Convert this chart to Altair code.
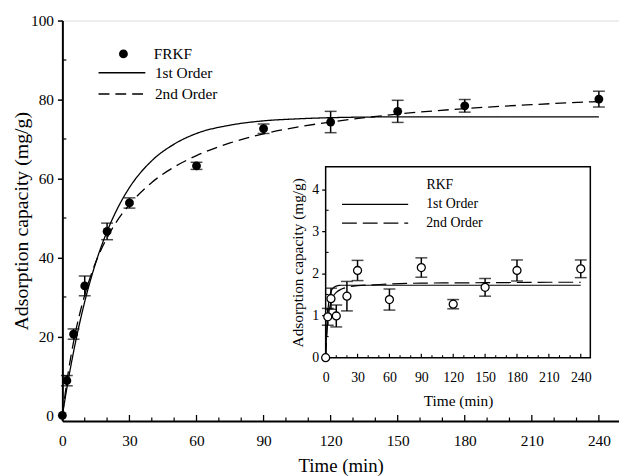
import altair as alt
import pandas as pd

FONT = "Liberation Serif"

# ---------------- data ----------------
t_pts = [0, 2, 5, 10, 20, 30, 60, 90, 120, 150, 180, 240]
q_frkf = [0, 8.8, 20.6, 32.8, 46.6, 53.8, 63.2, 72.6, 74.3, 77.0, 78.4, 80.1]
e_frkf = [0, 1.3, 1.3, 2.5, 2.1, 1.3, 0.9, 1.2, 2.7, 2.8, 1.6, 2.0]

t_fit_main = [0, 2, 5, 10, 15, 20, 25, 30, 40, 50, 60, 75, 90, 105, 120, 150, 180, 210, 240]
fit1_main = [0, 6.9, 16.1, 28.8, 38.8, 46.6, 52.8, 57.7, 64.5, 68.7, 71.4, 73.5, 74.6, 75.1, 75.4, 75.6, 75.6, 75.6, 75.6]
fit2_main = [0, 8.6, 18.6, 30.5, 38.9, 45.0, 49.7, 53.4, 59.0, 62.9, 65.8, 69.0, 71.3, 73.0, 74.3, 76.3, 77.7, 78.7, 79.5]

q_rkf = [0, 0.97, 1.40, 0.99, 1.46, 2.07, 1.38, 2.14, 1.27, 1.67, 2.07, 2.11]
e_rkf = [0, 0.2, 0.25, 0.26, 0.35, 0.24, 0.25, 0.23, 0.11, 0.21, 0.25, 0.21]

t_fit_inset = [0, 1, 2, 3, 4, 5, 7, 10, 15, 20, 30, 45, 60, 90, 120, 150, 180, 210, 240]
fit1_inset = [0, 0.66, 1.08, 1.33, 1.48, 1.57, 1.65, 1.70, 1.72, 1.72, 1.72, 1.72, 1.72, 1.72, 1.72, 1.72, 1.72, 1.72, 1.72]
fit2_inset = [0, 0.50, 0.85, 1.07, 1.22, 1.32, 1.45, 1.55, 1.63, 1.67, 1.71, 1.73, 1.75, 1.77, 1.775, 1.78, 1.785, 1.79, 1.79]

x_major = [0, 30, 60, 90, 120, 150, 180, 210, 240]
x_minor = [10, 20, 40, 50, 70, 80, 100, 110, 130, 140, 160, 170, 190, 200, 220, 230]
y_major_main = [0, 20, 40, 60, 80, 100]
y_minor_main = [10, 30, 50, 70, 90]
y_major_inset = [0, 1, 2, 3, 4]
y_minor_inset = [0.5, 1.5, 2.5, 3.5]

models = ["1st Order", "2nd Order"]

# ---------------- tables ----------------
pts_main = pd.DataFrame({"t": t_pts, "q": q_frkf, "e": e_frkf, "name": "FRKF"})
pts_main["lo"] = pts_main.q - pts_main.e
pts_main["hi"] = pts_main.q + pts_main.e
err_main = pts_main[pts_main.e > 0]

fit_main = pd.concat([
    pd.DataFrame({"t": t_fit_main, "q": fit1_main, "model": models[0]}),
    pd.DataFrame({"t": t_fit_main, "q": fit2_main, "model": models[1]}),
])

pts_in = pd.DataFrame({"t": t_pts, "q": q_rkf, "e": e_rkf, "name": "RKF"})
pts_in["lo"] = pts_in.q - pts_in.e
pts_in["hi"] = pts_in.q + pts_in.e
err_in = pts_in[pts_in.e > 0]

fit_in = pd.concat([
    pd.DataFrame({"t": t_fit_inset, "q": fit1_inset, "model": models[0]}),
    pd.DataFrame({"t": t_fit_inset, "q": fit2_inset, "model": models[1]}),
])

W, H = 563, 405
# inset placement inside the main view (pixels)
IX0, IX1 = 266.3, 534.0
IY0, IY1 = 341.0, 148.0

# ---------------- main panel ----------------
mx_scale = alt.Scale(domain=[0, 249], nice=False, zero=False)
my_scale = alt.Scale(domain=[-1.4, 100], nice=False, zero=False)
mx_axis = alt.Axis(orient="bottom", values=x_major, ticks=False, labelPadding=12.5, labelFlush=False,
                   labelFont=FONT, labelFontSize=15.5, labelColor="black", domainColor="black",
                   domainWidth=2, title="Time (min)", titleFont=FONT, titleFontSize=19,
                   titleFontWeight="normal", titleColor="black", titlePadding=8, grid=False)
my_axis = alt.Axis(orient="left", values=y_major_main, tickSize=5, tickWidth=1.5, tickColor="black",
                   labelPadding=4, labelFont=FONT, labelFontSize=15.5, labelColor="black",
                   domainColor="black", domainWidth=2, title="Adsorption capacity (mg/g)",
                   titleFont=FONT, titleFontSize=20, titleFontWeight="normal", titleColor="black",
                   titlePadding=-1, grid=False)
MX = alt.X("t:Q", scale=mx_scale, axis=mx_axis)
MY = alt.Y("q:Q", scale=my_scale, axis=my_axis)

main_err = alt.Chart(err_main).mark_rule(color="black", strokeWidth=1.5).encode(
    x=MX, y=alt.Y("lo:Q", scale=my_scale, axis=my_axis), y2="hi:Q")
main_cap_lo = alt.Chart(err_main).mark_tick(orient="horizontal", size=12, thickness=1.5, color="black").encode(
    x=MX, y=alt.Y("lo:Q", scale=my_scale, axis=my_axis))
main_cap_hi = alt.Chart(err_main).mark_tick(orient="horizontal", size=12, thickness=1.5, color="black").encode(
    x=MX, y=alt.Y("hi:Q", scale=my_scale, axis=my_axis))
main_lines = alt.Chart(fit_main).mark_line(color="black", strokeWidth=1.3, interpolate="monotone").encode(
    x=MX, y=MY,
    strokeDash=alt.StrokeDash("model:N", scale=alt.Scale(domain=models, range=[[1, 0], [11, 6]]),
                              legend=alt.Legend(title=None, orient="none", legendX=52.5, legendY=45,
                                                padding=0, rowPadding=4.5, symbolType="M-8,0H8",
                                                symbolSize=35, symbolStrokeColor="black",
                                                symbolStrokeWidth=1.4, labelOffset=25.6,
                                                labelFont=FONT, labelFontSize=15.5, labelColor="black")))
main_pts = alt.Chart(pts_main).mark_point(filled=True, color="black", size=80, opacity=1).encode(
    x=MX, y=MY,
    shape=alt.Shape("name:N", scale=alt.Scale(domain=["FRKF"], range=["circle"]),
                    legend=alt.Legend(title=None, orient="none", legendX=54, legendY=26, padding=0,
                                      symbolSize=80, symbolFillColor="black", symbolStrokeColor="black",
                                      labelOffset=23, labelFont=FONT, labelFontSize=15.5,
                                      labelColor="black")))
tick_x_maj = alt.Chart(pd.DataFrame({"t": x_major})).mark_rule(color="black", strokeWidth=1.3).encode(
    x=MX, y=alt.value(H), y2=alt.value(H - 6))
tick_x_min = alt.Chart(pd.DataFrame({"t": x_minor})).mark_rule(color="black", strokeWidth=1.2).encode(
    x=MX, y=alt.value(H), y2=alt.value(H - 3.5))
tick_y_min = alt.Chart(pd.DataFrame({"q": y_minor_main})).mark_rule(color="black", strokeWidth=1.2).encode(
    y=MY, x=alt.value(0), x2=alt.value(4))

main = alt.layer(tick_x_maj, tick_x_min, tick_y_min, main_err, main_cap_lo, main_cap_hi,
                 main_lines, main_pts)

# ---------------- inset panel ----------------
ix_scale = alt.Scale(domain=[0, 249], range=[IX0, IX1], nice=False, zero=False)
iy_scale = alt.Scale(domain=[0, 4.53], range=[IY0, IY1], nice=False, zero=False)
ix_axis = alt.Axis(orient="bottom", offset=-(H - IY0), values=x_major, ticks=False, domain=False,
                   labelPadding=13, labelFlush=False, labelFont=FONT, labelFontSize=14,
                   labelColor="black", title="Time (min)", titleFont=FONT, titleFontSize=15.5,
                   titleFontWeight="normal", titleColor="black", titlePadding=9.5, grid=False)
iy_axis = alt.Axis(orient="left", offset=-IX0, values=y_major_inset, tickSize=4, tickWidth=1.3,
                   tickColor="black", domain=False, labelPadding=3, labelFont=FONT, labelFontSize=14,
                   labelColor="black", title="Adsorption capacity (mg/g)", titleFont=FONT,
                   titleFontSize=15.5, titleFontWeight="normal", titleColor="black", titlePadding=6,
                   grid=False)
IXe = alt.X("t:Q", scale=ix_scale, axis=ix_axis)
IYe = alt.Y("q:Q", scale=iy_scale, axis=iy_axis)

frame = alt.Chart(pd.DataFrame({"t": [0], "t2": [249], "q": [0], "q2": [4.53]})).mark_rect(
    fill="white", stroke="black", strokeWidth=1.5).encode(x=IXe, x2="t2:Q", y=IYe, y2="q2:Q")
in_err = alt.Chart(err_in).mark_rule(color="black", strokeWidth=1.5).encode(
    x=IXe, y=alt.Y("lo:Q", scale=iy_scale, axis=iy_axis), y2="hi:Q")
in_cap_lo = alt.Chart(err_in).mark_tick(orient="horizontal", size=12, thickness=1.5, color="black").encode(
    x=IXe, y=alt.Y("lo:Q", scale=iy_scale, axis=iy_axis))
in_cap_hi = alt.Chart(err_in).mark_tick(orient="horizontal", size=12, thickness=1.5, color="black").encode(
    x=IXe, y=alt.Y("hi:Q", scale=iy_scale, axis=iy_axis))
in_lines = alt.Chart(fit_in).mark_line(color="black", strokeWidth=1.2, interpolate="monotone").encode(
    x=IXe, y=IYe,
    strokeDash=alt.StrokeDash("model:N", scale=alt.Scale(domain=models, range=[[1, 0], [15, 6]]),
                              legend=alt.Legend(title=None, orient="none", legendX=309.3, legendY=179,
                                                padding=0, rowPadding=5, symbolType="M-8,0H8",
                                                symbolSize=70, symbolStrokeColor="black",
                                                symbolStrokeWidth=1.3, labelOffset=44.7,
                                                labelFont=FONT, labelFontSize=14, labelColor="black")))
in_pts = alt.Chart(pts_in).mark_point(filled=False, fill="white", stroke="black", strokeWidth=1.3,
                                      size=65, opacity=1).encode(
    x=IXe, y=IYe,
    shape=alt.Shape("name:N", scale=alt.Scale(domain=["RKF"], range=["circle"]),
                    legend=alt.Legend(title=None, orient="none", legendX=310.6, legendY=159.3, padding=0,
                                      symbolSize=38, symbolFillColor="white", symbolStrokeColor="black",
                                      symbolStrokeWidth=1.2, labelOffset=43.6, labelFont=FONT,
                                      labelFontSize=14, labelColor="black")))
itick_x_maj = alt.Chart(pd.DataFrame({"t": x_major})).mark_rule(color="black", strokeWidth=1.2).encode(
    x=IXe, y=alt.value(IY0), y2=alt.value(IY0 - 4))
itick_x_min = alt.Chart(pd.DataFrame({"t": x_minor})).mark_rule(color="black", strokeWidth=1.1).encode(
    x=IXe, y=alt.value(IY0), y2=alt.value(IY0 - 2.5))
itick_y_min = alt.Chart(pd.DataFrame({"q": y_minor_inset})).mark_rule(color="black", strokeWidth=1.1).encode(
    y=IYe, x=alt.value(IX0), x2=alt.value(IX0 + 3))

inset = alt.layer(frame, itick_x_maj, itick_x_min, itick_y_min, in_err, in_cap_lo, in_cap_hi,
                  in_lines, in_pts)

chart = alt.layer(main, inset).resolve_scale(
    x="independent", y="independent", shape="independent", strokeDash="independent"
).properties(
    width=W, height=H,
    autosize=alt.AutoSizeParams(type="none"),
    padding={"left": 55, "top": 10, "right": 0, "bottom": 53},
).configure_view(stroke="black", strokeWidth=1.5).configure_axis(
    titleFontWeight="normal", titleFont=FONT, labelFont=FONT
).configure(background="white")

chart.save("out.html", embed_options={"renderer": "svg", "actions": False})
